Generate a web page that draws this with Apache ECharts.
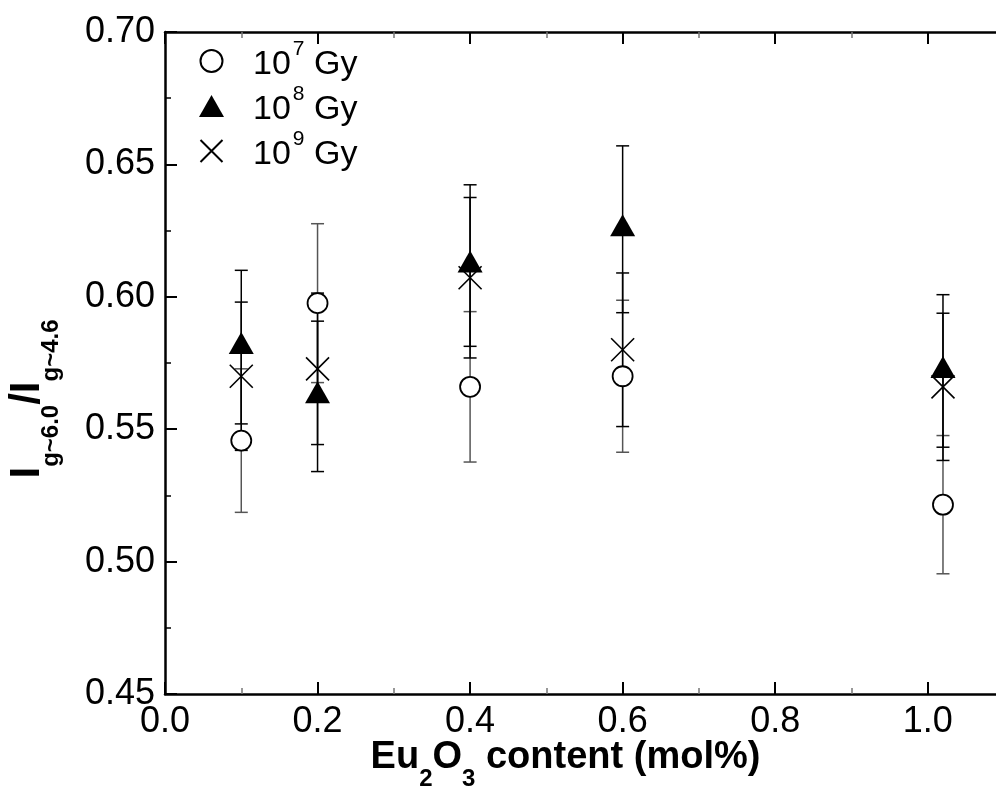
<!DOCTYPE html>
<html>
<head>
<meta charset="utf-8">
<script src="https://cdn.jsdelivr.net/npm/echarts@6/dist/echarts.min.js"></script>
<style>
html,body{margin:0;padding:0;background:#fff;}
#chart{width:996px;height:789px;}
</style>
</head>
<body>
<div id="chart"></div>
<script>
// ---- data ----
var xValues = [0.1, 0.2, 0.4, 0.6, 1.02];
var gy7 = [0.5457, 0.5976, 0.5660, 0.5700, 0.5215];
var gy7Err = [0.0271, 0.0300, 0.0284, 0.0287, 0.0261];
var gy8 = [0.5810, 0.5624, 0.6118, 0.6255, 0.5720];
var gy8Err = [0.0290, 0.0284, 0.0305, 0.0315, 0.0288];
var gy9 = [0.5700, 0.5728, 0.6072, 0.5800, 0.5660];
var gy9Err = [0.0280, 0.0286, 0.0303, 0.0290, 0.0278];
var seriesNames = ['10^7 Gy', '10^8 Gy', '10^9 Gy'];

var FONT = "'Liberation Sans', Arial, sans-serif";

function pts(ys) { return xValues.map(function (x, i) { return [x, ys[i]]; }); }
function bars(ys, es) { return xValues.map(function (x, i) { return [x, ys[i] - es[i], ys[i] + es[i]]; }); }

function errRender(color, width) {
  return function (params, api) {
    var x = api.value(0);
    var lo = api.coord([x, api.value(1)]);
    var hi = api.coord([x, api.value(2)]);
    var hw = 6.5;
    var st = { stroke: color, lineWidth: width };
    return {
      type: 'group',
      children: [
        { type: 'line', shape: { x1: lo[0], y1: lo[1], x2: hi[0], y2: hi[1] }, style: st },
        { type: 'line', shape: { x1: lo[0] - hw, y1: lo[1], x2: lo[0] + hw, y2: lo[1] }, style: st },
        { type: 'line', shape: { x1: hi[0] - hw, y1: hi[1], x2: hi[0] + hw, y2: hi[1] }, style: st }
      ]
    };
  };
}

var crossPath = 'path://M0,0L10,10M10,0L0,10';

var chart = echarts.init(document.getElementById('chart'), null, { renderer: 'canvas' });

var axisLineStyle = { color: '#000', width: 2.5 };

var option = {
  animation: false,
  backgroundColor: '#fff',
  grid: { left: 165, top: 32, bottom: 95, right: -8, containLabel: false, outerBoundsMode: 'none' },
  legend: {
    orient: 'vertical',
    left: 193,
    top: 34,
    itemWidth: 25,
    itemHeight: 22,
    itemGap: 2,
    selectedMode: false,
    data: seriesNames,
    formatter: function (name) {
      var p = name.split('^');
      var q = p[1].split(' ');
      return '{n|' + p[0] + '}{p|' + q[0] + '}{n| ' + q[1] + '}';
    },
    textStyle: {
      fontFamily: FONT,
      color: '#000',
      padding: [0, 0, 0, 24],
      rich: {
        n: { fontSize: 34, fontFamily: FONT, color: '#000', verticalAlign: 'bottom', lineHeight: 42 },
        p: { fontSize: 21, fontFamily: FONT, color: '#000', verticalAlign: 'bottom', lineHeight: 21, padding: [0, 0, 22, 2] }
      }
    }
  },
  xAxis: [{
    type: 'value',
    position: 'bottom',
    min: 0,
    max: 1.1,
    interval: 0.2,
    splitLine: { show: false },
    axisLine: { show: true, lineStyle: axisLineStyle, onZero: false },
    axisTick: { show: true, inside: true, length: 12, lineStyle: { color: '#000', width: 2 } },
    minorTick: { show: true, splitNumber: 2, length: 6, lineStyle: { color: '#777', width: 1.5 } },
    axisLabel: {
      show: true, margin: 10, fontSize: 36, fontFamily: FONT, color: '#000',
      formatter: function (v) { return v.toFixed(1); },
      showMaxLabel: false
    },
    name: '{b|Eu}{s|2}{b|O}{s|3}{b| content (mol%)}',
    nameLocation: 'middle',
    nameGap: 45,
    nameMoveOverlap: false,
    nameTextStyle: {
      padding: [0, 38, 0, 0],
      rich: {
        b: { fontSize: 38, fontWeight: 'bold', fontFamily: FONT, color: '#000', verticalAlign: 'bottom', padding: [0, 0, 14, 0] },
        s: { fontSize: 24, fontWeight: 'bold', fontFamily: FONT, color: '#000', verticalAlign: 'bottom' }
      }
    }
  }, {
    type: 'value',
    position: 'top',
    min: 0,
    max: 1.1,
    interval: 0.2,
    splitLine: { show: false },
    axisLine: { show: true, lineStyle: axisLineStyle, onZero: false },
    axisTick: { show: true, inside: true, length: 12, lineStyle: { color: '#000', width: 2 } },
    minorTick: { show: true, splitNumber: 2, length: 6, lineStyle: { color: '#777', width: 1.5 } },
    axisLabel: { show: false }
  }],
  yAxis: [{
    type: 'value',
    position: 'left',
    min: 0.45,
    max: 0.70,
    interval: 0.05,
    splitLine: { show: false },
    axisLine: { show: true, lineStyle: axisLineStyle, onZero: false },
    axisTick: { show: true, inside: true, length: 12, lineStyle: { color: '#000', width: 2 } },
    minorTick: { show: true, splitNumber: 2, length: 6, lineStyle: { color: '#000', width: 1.5 } },
    axisLabel: {
      show: true, margin: 10, fontSize: 36, fontFamily: FONT, color: '#000',
      formatter: function (v) { return v.toFixed(2); }
    },
    name: '{b|I}{s|g~6.0}{b|/I}{s|g~4.6}',
    nameLocation: 'middle',
    nameRotate: 90,
    nameGap: 102,
    nameMoveOverlap: false,
    nameTextStyle: {
      padding: [0, 72, 0, 0],
      rich: {
        b: { fontSize: 42, fontWeight: 'bold', fontFamily: FONT, color: '#000', verticalAlign: 'bottom', padding: [0, 0, 15, 0] },
        s: { fontSize: 24, fontWeight: 'bold', fontFamily: FONT, color: '#000', verticalAlign: 'bottom' }
      }
    }
  }],
  series: [
    {
      type: 'custom', name: 'err7', silent: true, xAxisIndex: 0, yAxisIndex: 0, z: 1,
      renderItem: errRender('#555', 1.5), data: bars(gy7, gy7Err), encode: { x: 0, y: [1, 2] }
    },
    {
      type: 'custom', name: 'err8', silent: true, xAxisIndex: 0, yAxisIndex: 0, z: 1,
      renderItem: errRender('#000', 1.5), data: bars(gy8, gy8Err), encode: { x: 0, y: [1, 2] }
    },
    {
      type: 'custom', name: 'err9', silent: true, xAxisIndex: 0, yAxisIndex: 0, z: 1,
      renderItem: errRender('#000', 1.5), data: bars(gy9, gy9Err), encode: { x: 0, y: [1, 2] }
    },
    {
      type: 'scatter', name: seriesNames[0], z: 3,
      symbol: 'circle', symbolSize: 20,
      itemStyle: { color: '#fff', borderColor: '#000', borderWidth: 1.8, opacity: 1 },
      data: pts(gy7)
    },
    {
      type: 'scatter', name: seriesNames[1], z: 4,
      symbol: 'triangle', symbolSize: [25, 22], symbolOffset: [0, -4],
      itemStyle: { color: '#000', borderColor: '#000', borderWidth: 0, opacity: 1 },
      data: pts(gy8)
    },
    {
      type: 'scatter', name: seriesNames[2], z: 5,
      symbol: crossPath, symbolSize: 23,
      itemStyle: { color: 'none', borderColor: '#000', borderWidth: 1.6, opacity: 1 },
      data: pts(gy9)
    }
  ]
};

chart.setOption(option);
</script>
</body>
</html>
